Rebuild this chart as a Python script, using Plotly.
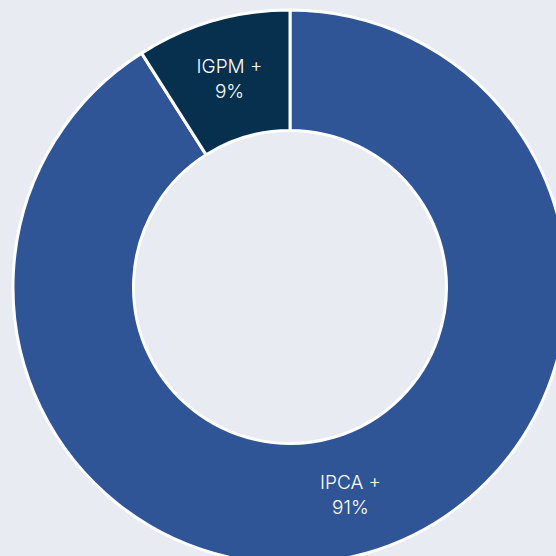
import plotly.graph_objects as go

labels = ["IPCA +", "IGPM +"]
values = [91, 9]
colors = ["#2f5597", "#07304f"]

fig = go.Figure(go.Pie(
    labels=labels,
    values=values,
    hole=0.565,
    sort=False,
    direction="clockwise",
    rotation=0,
    marker=dict(colors=colors, line=dict(color="white", width=3)),
    texttemplate="%{label}<br>%{value}%",
    textposition="inside",
    insidetextorientation="horizontal",
    textfont=dict(family="Inter", size=19, color="white", weight=300),
    hoverinfo="label+value",
))

fig.update_layout(
    width=580,
    height=580,
    margin=dict(l=13, r=13, t=10, b=16),
    showlegend=False,
    paper_bgcolor="#e8ebf1",
    plot_bgcolor="#e8ebf1",
)

fig.write_html(
    "out.html",
    config={"displayModeBar": False},
    post_script="document.body.style.margin='0';document.body.style.overflow='hidden';",
)
